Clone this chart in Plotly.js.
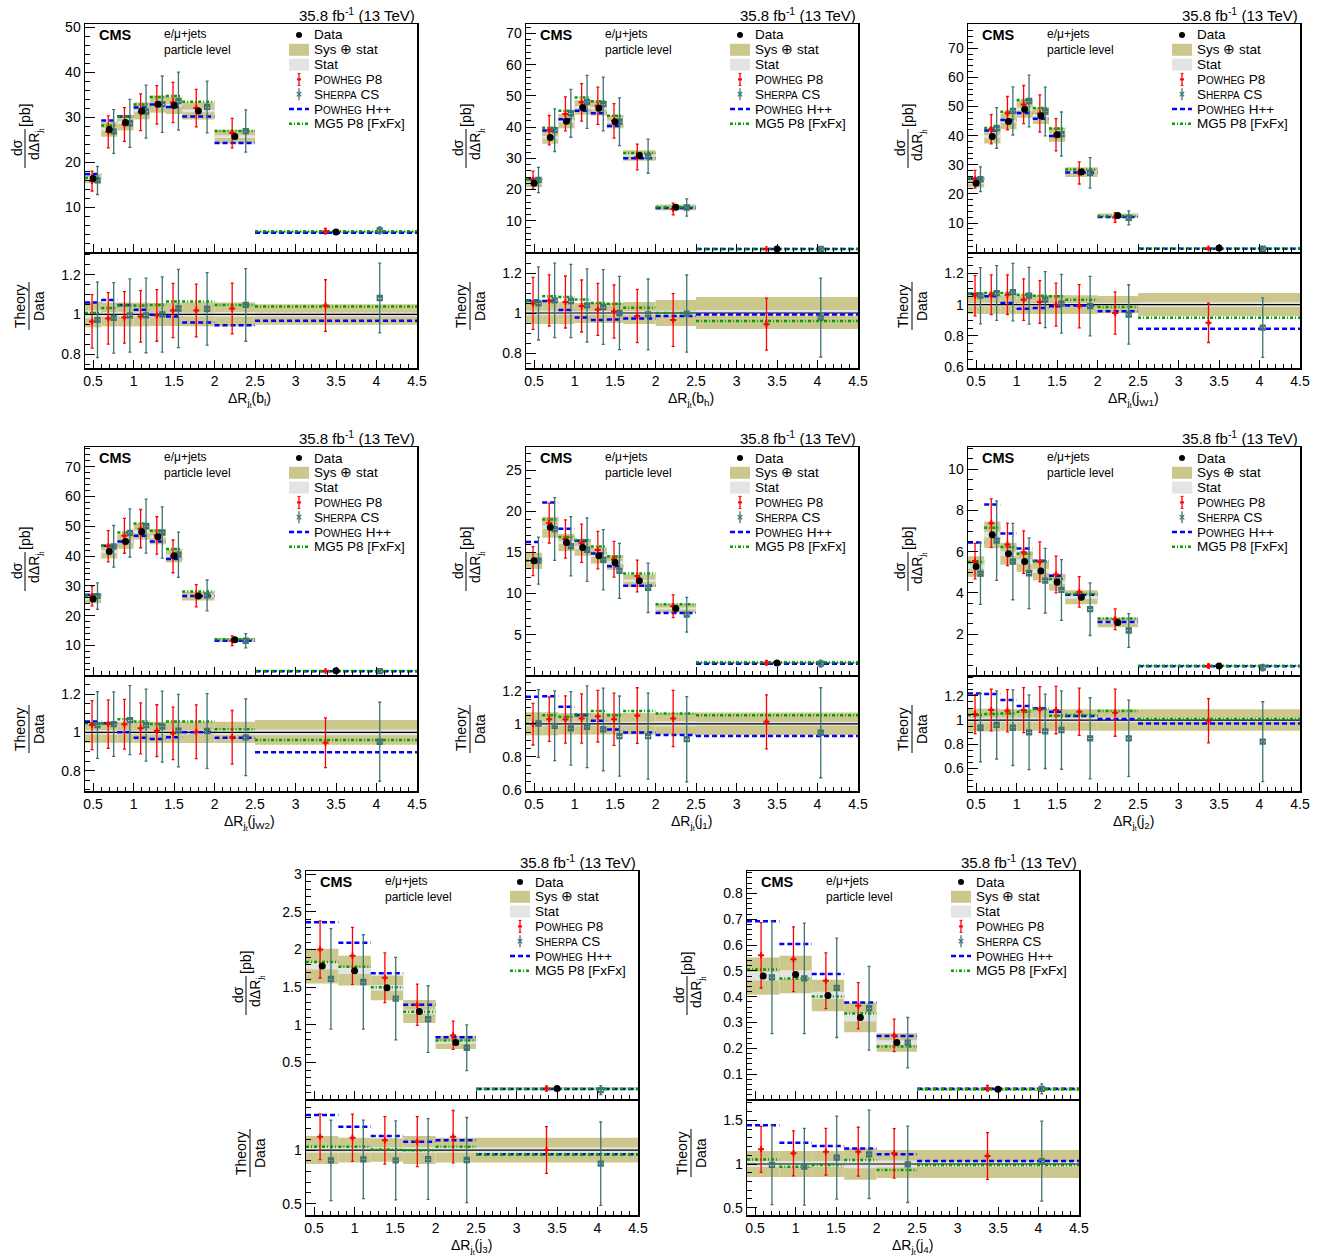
<!DOCTYPE html>
<html>
<head>
<meta charset="utf-8">
<script src="https://cdn.plot.ly/plotly-3.0.1.min.js"></script>
<style>html,body{margin:0;padding:0;background:#fff;}#plot{width:1332px;height:1259px;}</style>
</head>
<body>
<div id="plot"></div>
<script>
// ---------------- DATA ----------------
const binsFine = [0.4, 0.6, 0.8, 1.0, 1.2, 1.4, 1.6, 2.0, 2.5, 4.5];
const binsCoarse = [0.4, 0.8, 1.2, 1.6, 2.0, 2.5, 4.5];

// dR(b_l)
const bl_data   = [16.4, 27.3, 28.8, 31.4, 32.9, 32.6, 31.4, 25.7, 4.5];
const bl_tot    = [0.065, 0.06, 0.06, 0.06, 0.058, 0.058, 0.06, 0.06, 0.052];
const bl_stat   = [0.02, 0.012, 0.012, 0.01, 0.01, 0.01, 0.01, 0.012, 0.01];
const bl_p8     = [0.965, 0.98, 0.985, 0.99, 0.995, 1.02, 1.02, 1.03, 1.045];
const bl_p8err  = [0.135, 0.13, 0.13, 0.13, 0.13, 0.137, 0.133, 0.128, 0.13];
const bl_sh     = [0.973, 0.983, 0.995, 0.995, 1.0, 1.03, 1.028, 1.048, 1.083];
const bl_sherr  = [0.19, 0.178, 0.185, 0.188, 0.19, 0.197, 0.183, 0.183, 0.176];
const bl_hw     = [1.06, 1.073, 1.048, 1.024, 0.998, 0.99, 0.96, 0.945, 0.968];
const bl_mg     = [1.007, 1.032, 1.045, 1.045, 1.048, 1.065, 1.065, 1.048, 1.04];

// dR(b_h)
const bh_data   = [22.0, 36.7, 41.9, 46.3, 46.0, 41.7, 30.9, 14.3, 1.0];
const bh_tot    = [0.055, 0.055, 0.055, 0.05, 0.05, 0.05, 0.055, 0.065, 0.08];
const bh_stat   = [0.012, 0.012, 0.01, 0.01, 0.01, 0.01, 0.01, 0.012, 0.015];
const bh_p8     = [1.048, 1.063, 1.055, 1.035, 1.018, 1.007, 0.985, 0.965, 0.944];
const bh_p8err  = [0.13, 0.128, 0.13, 0.13, 0.13, 0.133, 0.133, 0.132, 0.13];
const bh_sh     = [1.048, 1.063, 1.06, 1.038, 1.03, 1.0, 0.993, 0.997, 0.977];
const bh_sherr  = [0.183, 0.186, 0.183, 0.183, 0.187, 0.183, 0.177, 0.193, 0.197];
const bh_hw     = [1.063, 1.06, 1.015, 0.977, 0.965, 0.968, 0.972, 0.985, 0.992];
const bh_mg     = [1.06, 1.084, 1.08, 1.068, 1.05, 1.046, 1.026, 1.0, 0.96];

// dR(j_W1)
const jw1_data  = [23.7, 39.7, 44.9, 49.1, 46.8, 40.3, 27.5, 12.6, 1.43];
const jw1_tot   = [0.06, 0.06, 0.06, 0.06, 0.06, 0.06, 0.06, 0.055, 0.075];
const jw1_stat  = [0.012, 0.012, 0.01, 0.01, 0.01, 0.01, 0.01, 0.012, 0.015];
const jw1_p8    = [1.057, 1.063, 1.063, 1.032, 1.017, 1.0, 0.99, 0.947, 0.884];
const jw1_p8err = [0.128, 0.127, 0.127, 0.133, 0.136, 0.137, 0.138, 0.135, 0.126];
const jw1_sh    = [1.057, 1.074, 1.08, 1.057, 1.032, 1.006, 0.99, 0.937, 0.853];
const jw1_sherr = [0.18, 0.175, 0.184, 0.181, 0.179, 0.188, 0.19, 0.19, 0.19];
const jw1_hw    = [1.069, 1.053, 1.01, 0.973, 0.979, 0.99, 0.994, 0.958, 0.846];
const jw1_mg    = [1.069, 1.074, 1.074, 1.063, 1.057, 1.053, 1.032, 0.985, 0.916];

// dR(j_W2)
const jw2_data  = [25.6, 41.5, 44.9, 48.2, 46.5, 40.1, 26.6, 11.9, 1.5];
const jw2_tot   = [0.055, 0.055, 0.055, 0.055, 0.055, 0.055, 0.055, 0.055, 0.065];
const jw2_stat  = [0.012, 0.012, 0.01, 0.01, 0.01, 0.01, 0.01, 0.012, 0.015];
const jw2_p8    = [1.038, 1.043, 1.042, 1.021, 1.009, 0.995, 1.003, 0.974, 0.946];
const jw2_p8err = [0.128, 0.126, 0.13, 0.133, 0.135, 0.137, 0.14, 0.14, 0.13];
const jw2_sh    = [1.038, 1.043, 1.064, 1.038, 1.03, 1.009, 1.007, 0.974, 0.951];
const jw2_sherr = [0.174, 0.168, 0.18, 0.188, 0.185, 0.189, 0.195, 0.2, 0.206];
const jw2_hw    = [1.056, 1.047, 1.0, 0.972, 0.965, 0.974, 1.0, 0.972, 0.896];
const jw2_mg    = [1.047, 1.047, 1.068, 1.056, 1.043, 1.056, 1.056, 1.016, 0.96];

// dR(j_1)
const j1_data   = [13.97, 18.05, 16.2, 15.6, 14.6, 13.77, 11.55, 8.19, 1.57];
const j1_tot    = [0.07, 0.07, 0.065, 0.065, 0.065, 0.065, 0.065, 0.065, 0.068];
const j1_stat   = [0.015, 0.012, 0.012, 0.012, 0.012, 0.012, 0.012, 0.015, 0.012];
const j1_p8     = [0.998, 1.028, 1.026, 1.032, 1.046, 1.028, 1.05, 1.032, 1.012];
const j1_p8err  = [0.126, 0.134, 0.143, 0.149, 0.156, 0.158, 0.168, 0.17, 0.163];
const j1_sh     = [1.002, 0.988, 0.972, 0.982, 0.966, 0.926, 0.926, 0.907, 0.946];
const j1_sherr  = [0.205, 0.211, 0.222, 0.247, 0.25, 0.242, 0.26, 0.257, 0.272];
const j1_hw     = [1.163, 1.167, 1.103, 1.052, 1.018, 0.966, 0.948, 0.932, 0.926];
const j1_mg     = [1.0, 1.052, 1.042, 1.058, 1.077, 1.052, 1.077, 1.062, 1.052];

// dR(j_2)
const j2_data   = [5.28, 6.82, 5.9, 5.52, 5.07, 4.52, 3.79, 2.57, 0.46];
const j2_tot    = [0.095, 0.095, 0.09, 0.09, 0.09, 0.09, 0.09, 0.09, 0.09];
const j2_stat   = [0.02, 0.02, 0.02, 0.02, 0.02, 0.02, 0.02, 0.02, 0.015];
const j2_p8     = [1.05, 1.083, 1.077, 1.083, 1.088, 1.083, 1.069, 1.061, 0.994];
const j2_p8err  = [0.163, 0.173, 0.175, 0.187, 0.19, 0.197, 0.196, 0.196, 0.184];
const j2_sh     = [0.936, 0.959, 0.936, 0.898, 0.906, 0.917, 0.848, 0.848, 0.82];
const j2_sherr  = [0.283, 0.283, 0.314, 0.311, 0.309, 0.326, 0.337, 0.317, 0.332];
const j2_hw     = [1.221, 1.216, 1.166, 1.116, 1.097, 1.069, 1.033, 1.008, 0.972];
const j2_mg     = [1.041, 1.05, 1.055, 1.069, 1.091, 1.036, 1.041, 1.075, 1.008];

// dR(j_3)
const j3_data   = [1.781, 1.719, 1.492, 1.176, 0.767, 0.153];
const j3_tot    = [0.13, 0.115, 0.11, 0.13, 0.115, 0.115];
const j3_stat   = [0.025, 0.025, 0.025, 0.025, 0.025, 0.025];
const j3_p8     = [1.124, 1.115, 1.09, 1.078, 1.124, 1.0];
const j3_p8err  = [0.213, 0.22, 0.222, 0.233, 0.244, 0.218];
const j3_sh     = [0.904, 0.913, 0.904, 0.916, 0.907, 0.873];
const j3_sherr  = [0.375, 0.365, 0.368, 0.376, 0.396, 0.388];
const j3_hw     = [1.326, 1.217, 1.13, 1.078, 1.09, 0.96];
const j3_mg     = [1.031, 1.031, 1.006, 0.997, 1.031, 0.96];

// dR(j_4)
const j4_data   = [0.48, 0.486, 0.405, 0.32, 0.223, 0.042];
const j4_tot    = [0.15, 0.15, 0.15, 0.18, 0.16, 0.16];
const j4_stat   = [0.035, 0.035, 0.035, 0.05, 0.04, 0.03];
const j4_p8     = [1.168, 1.122, 1.141, 1.141, 1.122, 1.092];
const j4_p8err  = [0.264, 0.258, 0.267, 0.28, 0.283, 0.268];
const j4_sh     = [0.989, 0.969, 1.073, 1.111, 0.996, 1.034];
const j4_sherr  = [0.454, 0.44, 0.475, 0.506, 0.437, 0.458];
const j4_hw     = [1.443, 1.244, 1.206, 1.179, 1.111, 1.034];
const j4_mg     = [1.053, 0.969, 0.989, 1.046, 0.931, 0.989];

const xTitles = ['b<sub>l</sub>', 'b<sub>h</sub>', 'j<sub>W1</sub>', 'j<sub>W2</sub>', 'j<sub>1</sub>', 'j<sub>2</sub>', 'j<sub>3</sub>', 'j<sub>4</sub>'];

// ---------------- STYLE / LAYOUT ----------------
const W = 1332, H = 1259;
const FONT = 'Liberation Sans, Arial, Helvetica, sans-serif';
const C_TOT = 'rgb(204,199,140)';
const C_STAT = 'rgb(228,228,228)';
const C_P8 = '#ff0000';
const C_SH = '#3f7373';
const C_HW = '#0000ff';
const C_MG = '#00a000';
const PW = 332, MH = 228, RGAP = 1, RH = 115;

const panels = [
  {d: bl_data,  tot: bl_tot,  st: bl_stat,  p8: bl_p8,  p8e: bl_p8err,  sh: bl_sh,  she: bl_sherr,  hw: bl_hw,  mg: bl_mg,  bins: binsFine},
  {d: bh_data,  tot: bh_tot,  st: bh_stat,  p8: bh_p8,  p8e: bh_p8err,  sh: bh_sh,  she: bh_sherr,  hw: bh_hw,  mg: bh_mg,  bins: binsFine},
  {d: jw1_data, tot: jw1_tot, st: jw1_stat, p8: jw1_p8, p8e: jw1_p8err, sh: jw1_sh, she: jw1_sherr, hw: jw1_hw, mg: jw1_mg, bins: binsFine},
  {d: jw2_data, tot: jw2_tot, st: jw2_stat, p8: jw2_p8, p8e: jw2_p8err, sh: jw2_sh, she: jw2_sherr, hw: jw2_hw, mg: jw2_mg, bins: binsFine},
  {d: j1_data,  tot: j1_tot,  st: j1_stat,  p8: j1_p8,  p8e: j1_p8err,  sh: j1_sh,  she: j1_sherr,  hw: j1_hw,  mg: j1_mg,  bins: binsFine},
  {d: j2_data,  tot: j2_tot,  st: j2_stat,  p8: j2_p8,  p8e: j2_p8err,  sh: j2_sh,  she: j2_sherr,  hw: j2_hw,  mg: j2_mg,  bins: binsFine},
  {d: j3_data,  tot: j3_tot,  st: j3_stat,  p8: j3_p8,  p8e: j3_p8err,  sh: j3_sh,  she: j3_sherr,  hw: j3_hw,  mg: j3_mg,  bins: binsCoarse},
  {d: j4_data,  tot: j4_tot,  st: j4_stat,  p8: j4_p8,  p8e: j4_p8err,  sh: j4_sh,  she: j4_sherr,  hw: j4_hw,  mg: j4_mg,  bins: binsCoarse}
];
const geo = [
  {x0: 85,  y0: 24,  yr: [0.07, 50.7],  yd: 10,  ym: 2,    rr: [0.73, 1.31],   rd: 0.2, rm: 0.05},
  {x0: 526, y0: 24,  yr: [0.01, 73],    yd: 10,  ym: 2,    rr: [0.725, 1.30],  rd: 0.2, rm: 0.05},
  {x0: 968, y0: 24,  yr: [0.1, 78.3],   yd: 10,  ym: 2,    rr: [0.595, 1.33],  rd: 0.2, rm: 0.05},
  {x0: 85,  y0: 447, yr: [0.1, 76.6],   yd: 10,  ym: 2,    rr: [0.694, 1.294], rd: 0.2, rm: 0.05},
  {x0: 526, y0: 447, yr: [0.1, 27.8],   yd: 5,   ym: 1,    rr: [0.594, 1.289], rd: 0.2, rm: 0.05},
  {x0: 968, y0: 447, yr: [0.02, 11.08], yd: 2,   ym: 0.5,  rr: [0.41, 1.366],  rd: 0.2, rm: 0.05},
  {x0: 306, y0: 871, yr: [0.015, 3.044],yd: 0.5, ym: 0.1,  rr: [0.395, 1.466], rd: 0.5, rm: 0.1},
  {x0: 747, y0: 871, yr: [0.004, 0.887],yd: 0.1, ym: 0.02, rr: [0.416, 1.733], rd: 0.5, rm: 0.1}
];

const px = v => v / W;
const py = v => 1 - v / H;

const traces = [];
const layout = {
  width: W, height: H, margin: {l: 0, r: 0, t: 0, b: 0},
  paper_bgcolor: '#fff', plot_bgcolor: '#fff',
  showlegend: false, barmode: 'overlay',
  font: {family: FONT, color: '#000', size: 13},
  annotations: [], shapes: []
};

function segs(edges, vals) {
  const xs = [], ys = [];
  vals.forEach((v, i) => { xs.push(edges[i], edges[i + 1], null); ys.push(v, v, null); });
  return {xs, ys};
}
function ann(text, x, y, o) {
  return Object.assign({text: text, x: px(x), y: py(y), xref: 'paper', yref: 'paper', showarrow: false,
    xanchor: 'left', yanchor: 'middle', font: {family: FONT, size: 13, color: '#000'}}, o || {});
}
function pline(x1, y1, x2, y2, color, width, dash) {
  return {type: 'line', xref: 'paper', yref: 'paper', x0: px(x1), y0: py(y1), x1: px(x2), y1: py(y2),
    line: {color: color, width: width, dash: dash || 'solid'}};
}
function prect(x1, y1, x2, y2, color) {
  return {type: 'rect', xref: 'paper', yref: 'paper', x0: px(x1), y0: py(y1), x1: px(x2), y1: py(y2),
    fillcolor: color, line: {width: 0}};
}

const HW_DASH = '5px,3px';
const MG_DASH = '3px,2px,1px,2px';

panels.forEach((p, i) => {
  const g = geo[i];
  const m = 2 * i + 1, r = 2 * i + 2;
  const xm = 'x' + m, ym = 'y' + m, xr = 'x' + r, yr = 'y' + r;
  const e = p.bins;
  const n = p.d.length;
  const lo = e.slice(0, n), hi = e.slice(1, n + 1);
  const cen = lo.map((l, k) => (l + hi[k]) / 2);
  const wid = lo.map((l, k) => hi[k] - l);
  const xP8 = lo.map((l, k) => l + 0.435 * wid[k]);
  const xSH = lo.map((l, k) => l + 0.77 * wid[k]);

  // ---- main panel ----
  traces.push({type: 'bar', x: cen, width: wid, base: p.d.map((d, k) => d * (1 - p.tot[k])),
    y: p.d.map((d, k) => 2 * d * p.tot[k]), marker: {color: C_TOT, line: {width: 0}},
    xaxis: xm, yaxis: ym, hoverinfo: 'skip'});
  traces.push({type: 'bar', x: cen, width: wid, base: p.d.map((d, k) => d * (1 - p.st[k])),
    y: p.d.map((d, k) => 2 * d * p.st[k]), marker: {color: C_STAT, line: {width: 0}},
    xaxis: xm, yaxis: ym, hoverinfo: 'skip'});
  let s = segs(e, p.hw.map((v, k) => v * p.d[k]));
  traces.push({type: 'scatter', mode: 'lines', x: s.xs, y: s.ys, line: {color: C_HW, width: 2.5, dash: HW_DASH},
    connectgaps: false, xaxis: xm, yaxis: ym});
  s = segs(e, p.mg.map((v, k) => v * p.d[k]));
  traces.push({type: 'scatter', mode: 'lines', x: s.xs, y: s.ys, line: {color: C_MG, width: 2.5, dash: MG_DASH},
    connectgaps: false, xaxis: xm, yaxis: ym});
  traces.push({type: 'scatter', mode: 'markers', x: xP8, y: p.p8.map((v, k) => v * p.d[k]),
    error_y: {type: 'data', array: p.p8e.map((v, k) => v * p.d[k]), color: C_P8, thickness: 1.3, width: 1.5},
    marker: {symbol: 'cross', size: 5, color: C_P8}, xaxis: xm, yaxis: ym});
  traces.push({type: 'scatter', mode: 'markers', x: xSH, y: p.sh.map((v, k) => v * p.d[k]),
    error_y: {type: 'data', array: p.she.map((v, k) => v * p.d[k]), color: C_SH, thickness: 1.3, width: 1.5},
    marker: {symbol: 'square-x-open', size: 5, color: C_SH, line: {color: C_SH, width: 1.3}}, xaxis: xm, yaxis: ym});
  traces.push({type: 'scatter', mode: 'markers', x: cen, y: p.d,
    marker: {symbol: 'circle', size: 7, color: '#000'}, xaxis: xm, yaxis: ym});

  // ---- ratio panel ----
  traces.push({type: 'bar', x: cen, width: wid, base: p.tot.map(t => 1 - t), y: p.tot.map(t => 2 * t),
    marker: {color: C_TOT, line: {width: 0}}, xaxis: xr, yaxis: yr, hoverinfo: 'skip'});
  traces.push({type: 'bar', x: cen, width: wid, base: p.st.map(t => 1 - t), y: p.st.map(t => 2 * t),
    marker: {color: C_STAT, line: {width: 0}}, xaxis: xr, yaxis: yr, hoverinfo: 'skip'});
  traces.push({type: 'scatter', mode: 'lines', x: [e[0], e[e.length - 1]], y: [1, 1],
    line: {color: '#000', width: 1.2}, xaxis: xr, yaxis: yr});
  s = segs(e, p.hw);
  traces.push({type: 'scatter', mode: 'lines', x: s.xs, y: s.ys, line: {color: C_HW, width: 2.5, dash: HW_DASH},
    connectgaps: false, xaxis: xr, yaxis: yr});
  s = segs(e, p.mg);
  traces.push({type: 'scatter', mode: 'lines', x: s.xs, y: s.ys, line: {color: C_MG, width: 2.5, dash: MG_DASH},
    connectgaps: false, xaxis: xr, yaxis: yr});
  traces.push({type: 'scatter', mode: 'markers', x: xP8, y: p.p8,
    error_y: {type: 'data', array: p.p8e, color: C_P8, thickness: 1.3, width: 1.5},
    marker: {symbol: 'cross', size: 5, color: C_P8}, xaxis: xr, yaxis: yr});
  traces.push({type: 'scatter', mode: 'markers', x: xSH, y: p.sh,
    error_y: {type: 'data', array: p.she, color: C_SH, thickness: 1.3, width: 1.5},
    marker: {symbol: 'square-x-open', size: 5, color: C_SH, line: {color: C_SH, width: 1.3}}, xaxis: xr, yaxis: yr});

  // ---- axes ----
  const x0 = g.x0, y0 = g.y0, rt = y0 + MH + RGAP, rb = rt + RH;
  const xdom = [px(x0), px(x0 + PW)];
  const common = {showline: true, mirror: true, linecolor: '#000', linewidth: 1.5, showgrid: false, zeroline: false,
    ticks: 'inside', tickcolor: '#000', tickfont: {family: FONT, size: 14, color: '#000'}};
  layout['xaxis' + m] = Object.assign({}, common, {domain: xdom, anchor: ym, range: [0.4, 4.5], tick0: 0.5, dtick: 0.5,
    ticklen: 8, showticklabels: false, minor: {dtick: 0.1, tick0: 0.4, ticklen: 4, ticks: 'inside', tickcolor: '#000'}});
  layout['xaxis' + r] = Object.assign({}, common, {domain: xdom, anchor: yr, range: [0.4, 4.5], tick0: 0.5, dtick: 0.5,
    ticklen: 8, showticklabels: true, minor: {dtick: 0.1, tick0: 0.4, ticklen: 4, ticks: 'inside', tickcolor: '#000'}});
  layout['yaxis' + m] = Object.assign({}, common, {domain: [py(y0 + MH), py(y0)], anchor: xm, range: g.yr,
    tick0: 0, dtick: g.yd, ticklen: 10, minor: {dtick: g.ym, tick0: 0, ticklen: 5, ticks: 'inside', tickcolor: '#000'}});
  layout['yaxis' + r] = Object.assign({}, common, {domain: [py(rb), py(rt)], anchor: xr, range: g.rr,
    tick0: 0, dtick: g.rd, ticklen: 10, minor: {dtick: g.rm, tick0: 0, ticklen: 5, ticks: 'inside', tickcolor: '#000'}});

  // ---- texts ----
  const A = layout.annotations, S = layout.shapes;
  A.push(ann('35.8 fb<sup>-1</sup> (13 TeV)', x0 + PW, y0 - 10, {xanchor: 'right', font: {family: FONT, size: 15, color: '#000'}}));
  A.push(ann('<b>CMS</b>', x0 + 12, y0 + 11, {font: {family: FONT, size: 14.5, color: '#000'}}));
  A.push(ann('e/μ+jets', x0 + 77, y0 + 10, {font: {family: FONT, size: 12, color: '#000'}}));
  A.push(ann('particle level', x0 + 77, y0 + 26, {font: {family: FONT, size: 12, color: '#000'}}));
  const legTxt = ['Data', 'Sys ⊕ stat', 'Stat',
    'P<span style="font-size:10px">OWHEG</span> P8',
    'S<span style="font-size:10px">HERPA</span> CS',
    'P<span style="font-size:10px">OWHEG</span> H++',
    'MG5 P8 [FxFx]'];
  const lx = x0 + 214;
  legTxt.forEach((t, k) => {
    const yy = y0 + 11 + 14.8 * k;
    A.push(ann(t, x0 + 227, yy, {font: {family: FONT, size: 13.5, color: '#000'}}));
  });
  const ly = k => y0 + 11 + 14.8 * k;
  S.push({type: 'circle', xref: 'paper', yref: 'paper', x0: px(lx - 3), x1: px(lx + 3), y0: py(ly(0) + 3), y1: py(ly(0) - 3),
    fillcolor: '#000', line: {width: 0}});
  S.push(prect(lx - 10, ly(1) + 6, lx + 10, ly(1) - 6, C_TOT));
  S.push(prect(lx - 10, ly(2) + 6, lx + 10, ly(2) - 6, C_STAT));
  S.push(pline(lx, ly(3) - 6, lx, ly(3) + 6, C_P8, 1.3));
  S.push(pline(lx - 2, ly(3), lx + 2, ly(3), C_P8, 2));
  S.push(pline(lx - 1.5, ly(3) - 6, lx + 1.5, ly(3) - 6, C_P8, 1));
  S.push(pline(lx - 1.5, ly(3) + 6, lx + 1.5, ly(3) + 6, C_P8, 1));
  S.push(pline(lx, ly(4) - 6, lx, ly(4) + 6, C_SH, 1.3));
  S.push(pline(lx - 2.2, ly(4) - 2.2, lx + 2.2, ly(4) + 2.2, C_SH, 1.2));
  S.push(pline(lx - 2.2, ly(4) + 2.2, lx + 2.2, ly(4) - 2.2, C_SH, 1.2));
  S.push(pline(lx - 10, ly(5), lx + 10, ly(5), C_HW, 2.5, HW_DASH));
  S.push(pline(lx - 10, ly(6), lx + 10, ly(6), C_MG, 2.5, MG_DASH));

  // y titles
  A.push(ann('dσ', x0 - 68, y0 + 124, {xanchor: 'center', textangle: -90, font: {family: FONT, size: 14, color: '#000'}}));
  A.push(ann('dΔR<sub>j<sub>t</sub></sub>', x0 - 50, y0 + 121, {xanchor: 'center', textangle: -90, font: {family: FONT, size: 14, color: '#000'}}));
  S.push(pline(x0 - 60, y0 + 105, x0 - 60, y0 + 144, '#000', 1));
  A.push(ann('[pb]', x0 - 60, y0 + 92, {xanchor: 'center', textangle: -90, font: {family: FONT, size: 14, color: '#000'}}));
  A.push(ann('Theory', x0 - 65, rt + 53, {xanchor: 'center', textangle: -90, font: {family: FONT, size: 14, color: '#000'}}));
  S.push(pline(x0 - 56, rt + 29, x0 - 56, rt + 77, '#000', 1));
  A.push(ann('Data', x0 - 46, rt + 53, {xanchor: 'center', textangle: -90, font: {family: FONT, size: 14, color: '#000'}}));
  // x title
  A.push(ann('ΔR<sub>j<sub>t</sub></sub>(' + xTitles[i] + ')', x0 + 165, rb + 31, {xanchor: 'center', font: {family: FONT, size: 14, color: '#000'}}));
});

Plotly.newPlot('plot', traces, layout, {staticPlot: true, displayModeBar: false});
</script>
</body>
</html>
